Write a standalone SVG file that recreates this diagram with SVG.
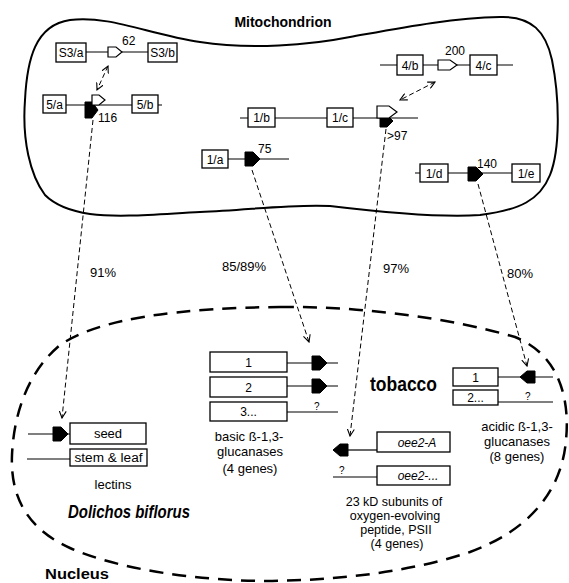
<svg xmlns="http://www.w3.org/2000/svg" width="569" height="583" viewBox="0 0 569 583">
<defs>
<style>
.bx{fill:#fff;stroke:#000;stroke-width:1.3}
.ln{stroke:#000;stroke-width:1.2;fill:none}
.t{font-family:"Liberation Sans",Arial,Helvetica,sans-serif;font-size:12px;fill:#000}
.tc{text-anchor:middle}
.lb{font-size:13px}
.sm{font-size:12.5px}
.it{font-style:italic}
.bd{font-weight:bold}
.dash{stroke:#000;stroke-width:1;fill:none;stroke-dasharray:5 3}
.fp{fill:#000;stroke:#000;stroke-width:1}
.op{fill:#fff;stroke:#000;stroke-width:1.2}
</style>
<marker id="ah" viewBox="0 0 8 8" refX="7" refY="4" markerWidth="8" markerHeight="8" markerUnits="userSpaceOnUse" orient="auto-start-reverse">
<path d="M0,0.5 L7,4 L0,7.5" fill="none" stroke="#000" stroke-width="1.1"/>
</marker>
<path id="fpr" d="M0,-7 h8 l7,7 l-7,7 h-8 z"/>
<path id="fpl" d="M0,-6 h-8 l-7,6 l7,6 h8 z"/>
</defs>

<g id="mitochondrion">
<path d="M45,195 C30,175 22,140 25,100 C27,60 35,25 70,20 C110,15 150,35 200,42 C250,50 310,45 350,37 C400,28 450,18 500,17 C532,16 546,32 552,60 C560,100 560,150 550,175 C540,200 520,210 480,215 C440,218 380,212 330,206 C290,204 250,210 200,212 C160,214 120,218 90,214 C70,211 55,205 45,195 Z" fill="none" stroke="#000" stroke-width="2"/>
<text class="t bd tc" x="283" y="27" style="font-size:14px">Mitochondrion</text>
</g>

<g id="nucleus">
<path d="M280,307 C360,306 450,318 515,337 C560,355 570,400 566,440 C562,490 530,530 470,552 C410,572 340,580 270,581 C200,581 120,570 70,548 C30,530 10,500 12,455 C14,410 30,370 60,345 C100,318 180,308 280,307 Z" fill="none" stroke="#000" stroke-width="2.5" stroke-dasharray="14 9"/>
<text class="t bd" x="45" y="579" style="font-size:14px" textLength="64" lengthAdjust="spacingAndGlyphs">Nucleus</text>
</g>

<g id="gene-S3">
<line class="ln" x1="86" y1="52" x2="148" y2="52"/>
<rect class="bx" x="56" y="43" width="30" height="19"/>
<text class="t tc" x="71" y="57">S3/a</text>
<path class="op" transform="translate(108,52)" d="M0,-5 h8 l6,5 l-6,5 h-8 z"/>
<rect class="bx" x="148" y="43" width="29" height="19"/>
<text class="t tc" x="162.5" y="57">S3/b</text>
<text class="t" x="122" y="45">62</text>
</g>

<g id="gene-5">
<line class="ln" x1="66" y1="105" x2="162" y2="105"/>
<rect class="bx" x="43" y="95" width="23" height="18"/>
<text class="t tc" x="54.5" y="108.5">5/a</text>
<path class="fp" transform="translate(85,110)" d="M0,-8 h7 l6,8 l-6,8 h-7 z"/>
<path class="op" transform="translate(92,100)" d="M0,-5 h7 l6,5 l-6,5 h-7 z"/>
<rect class="bx" x="132" y="95" width="26" height="18"/>
<text class="t tc" x="145" y="108.5">5/b</text>
<text class="t" x="98" y="122">116</text>
</g>

<g id="gene-1bc">
<line class="ln" x1="240" y1="118" x2="418" y2="118"/>
<rect class="bx" x="248" y="108" width="27" height="19"/>
<text class="t tc" x="261.5" y="122">1/b</text>
<rect class="bx" x="327" y="108" width="26" height="19"/>
<text class="t tc" x="340" y="122">1/c</text>
<path class="fp" transform="translate(380,121)" d="M0,-6 h7 l6,6 l-6,6 h-7 z"/>
<path class="op" transform="translate(377,112)" d="M0,-6 h12 l8,6 l-8,6 h-12 z"/>
<text class="t" x="387" y="140">&gt;97</text>
</g>

<g id="gene-1a">
<line class="ln" x1="228" y1="159" x2="289" y2="159"/>
<rect class="bx" x="202" y="150" width="26" height="18"/>
<text class="t tc" x="215" y="163.5">1/a</text>
<use href="#fpr" class="fp" x="245" y="159"/>
<text class="t" x="258" y="153">75</text>
</g>

<g id="gene-4">
<line class="ln" x1="380" y1="65" x2="513" y2="65"/>
<rect class="bx" x="397" y="55" width="26" height="20"/>
<text class="t tc" x="410" y="69.5">4/b</text>
<path class="op" transform="translate(438,65)" d="M0,-5 h12 l7,5 l-7,5 h-12 z"/>
<rect class="bx" x="470" y="55" width="27" height="20"/>
<text class="t tc" x="483.5" y="69.5">4/c</text>
<text class="t" x="445" y="55">200</text>
</g>

<g id="gene-1de">
<line class="ln" x1="415" y1="173" x2="512" y2="173"/>
<rect class="bx" x="420" y="164" width="28" height="18"/>
<text class="t tc" x="434" y="177.5">1/d</text>
<use href="#fpr" class="fp" x="468" y="174"/>
<rect class="bx" x="512" y="164" width="28" height="18"/>
<text class="t tc" x="526" y="177.5">1/e</text>
<text class="t" x="477" y="168">140</text>
</g>

<g id="tobacco-basic">
<line class="ln" x1="287" y1="363" x2="338" y2="363"/>
<rect class="bx" x="210" y="352" width="77" height="20"/>
<text class="t tc" x="248.5" y="366.5">1</text>
<use href="#fpr" class="fp" x="312" y="363"/>
<line class="ln" x1="287" y1="386" x2="338" y2="386"/>
<rect class="bx" x="210" y="377" width="77" height="20"/>
<text class="t tc" x="248.5" y="391.5">2</text>
<use href="#fpr" class="fp" x="312" y="386"/>
<line class="ln" x1="287" y1="412" x2="338" y2="412"/>
<rect class="bx" x="210" y="402" width="77" height="19"/>
<text class="t tc" x="248.5" y="416">3...</text>
<text class="t" x="314" y="410" style="font-size:10px">?</text>
<text class="t tc lb" x="249" y="441">basic  ß-1,3-</text>
<text class="t tc lb" x="250" y="456">glucanases</text>
<text class="t tc lb" x="250" y="473">(4  genes)</text>
</g>

<text class="t bd" x="370" y="391" style="font-size:21px" textLength="67" lengthAdjust="spacingAndGlyphs">tobacco</text>

<g id="tobacco-acidic">
<line class="ln" x1="498" y1="377" x2="553" y2="377"/>
<rect class="bx" x="453" y="368" width="45" height="18"/>
<text class="t tc" x="475.5" y="381.5">1</text>
<use href="#fpl" class="fp" x="535" y="377"/>
<line class="ln" x1="498" y1="402" x2="553" y2="402"/>
<rect class="bx" x="453" y="390" width="45" height="15"/>
<text class="t tc" x="475.5" y="402">2...</text>
<text class="t" x="525" y="400" style="font-size:10px">?</text>
<text class="t tc lb" x="517" y="431">acidic  ß-1,3-</text>
<text class="t tc lb" x="517" y="446">glucanases</text>
<text class="t tc lb" x="517" y="461">(8  genes)</text>
</g>

<g id="oee2">
<line class="ln" x1="348" y1="450" x2="377" y2="450"/>
<rect class="bx" x="377" y="432" width="73" height="20"/>
<text class="t tc it" x="417" y="446.5">oee2-A</text>
<use href="#fpl" class="fp" x="348" y="450"/>
<line class="ln" x1="333" y1="477" x2="377" y2="477"/>
<rect class="bx" x="377" y="466" width="73" height="19"/>
<text class="t tc it" x="418" y="480">oee2-...</text>
<text class="t" x="339" y="474" style="font-size:10px">?</text>
<text class="t tc sm" x="394" y="506">23  kD  subunits  of</text>
<text class="t tc sm" x="395" y="520">oxygen-evolving</text>
<text class="t tc sm" x="396" y="534">peptide,  PSII</text>
<text class="t tc sm" x="397" y="548">(4  genes)</text>
</g>

<g id="dolichos">
<line class="ln" x1="28" y1="434" x2="70" y2="434"/>
<use href="#fpr" class="fp" x="53" y="434"/>
<rect class="bx" x="70" y="423" width="76" height="21"/>
<text class="t tc lb" x="108" y="438">seed</text>
<line class="ln" x1="27" y1="459" x2="70" y2="459"/>
<rect class="bx" x="70" y="449" width="77" height="17"/>
<text class="t tc" x="108.5" y="462" textLength="68" lengthAdjust="spacingAndGlyphs">stem &amp; leaf</text>
<text class="t tc lb" x="113" y="489">lectins</text>
<text class="t bd it" x="68" y="518" style="font-size:19px" textLength="122" lengthAdjust="spacingAndGlyphs">Dolichos biflorus</text>
</g>

<g id="connectors">
<line class="dash" x1="108" y1="66" x2="97" y2="90" marker-start="url(#ah)" marker-end="url(#ah)"/>
<line class="dash" x1="435" y1="82" x2="400" y2="100" marker-start="url(#ah)" marker-end="url(#ah)"/>
<line class="dash" x1="93" y1="120" x2="62" y2="418" marker-end="url(#ah)"/>
<line class="dash" x1="252" y1="170" x2="309" y2="342" marker-end="url(#ah)"/>
<line class="dash" x1="386" y1="129" x2="350" y2="436" marker-end="url(#ah)"/>
<line class="dash" x1="478" y1="184" x2="527" y2="366" marker-end="url(#ah)"/>
<text class="t lb" x="90" y="277">91%</text>
<text class="t lb" x="222" y="271">85/89%</text>
<text class="t lb" x="383" y="273">97%</text>
<text class="t lb" x="507" y="278">80%</text>
</g>
</svg>
